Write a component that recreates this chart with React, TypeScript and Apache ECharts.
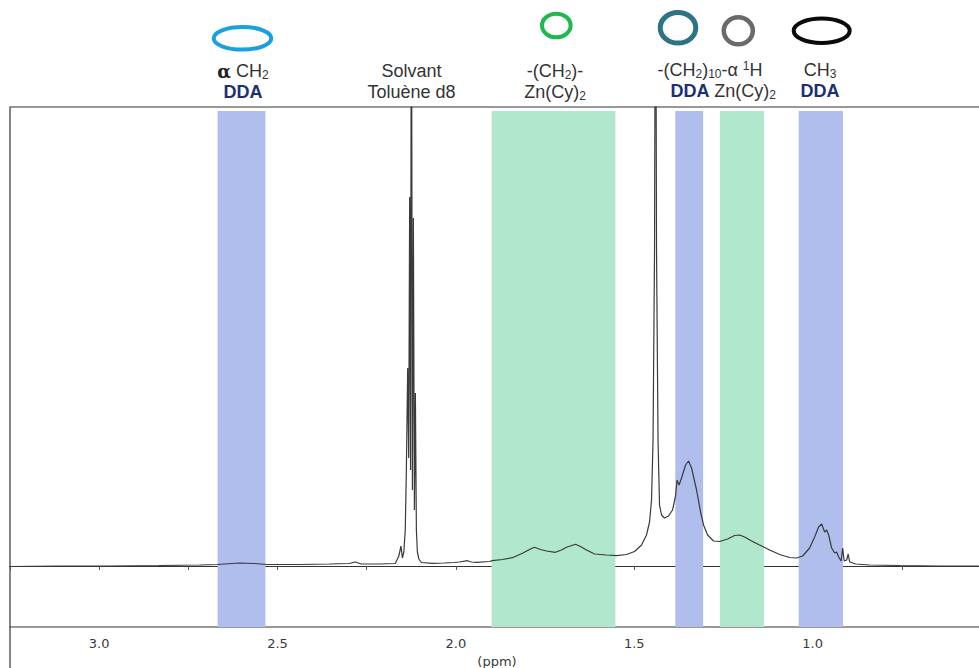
import React, { useEffect, useRef } from "react";
import * as echarts from "echarts";

// Chemical shift (ppm) of each point of the 1H NMR trace, read left to right
const ppm = [
  3.252, 3.112, 2.972, 2.832, 2.719, 2.669, 2.607, 2.565, 2.529, 2.439, 2.355, 2.299, 2.282, 2.265,
  2.215, 2.17, 2.16, 2.154, 2.15, 2.146, 2.142, 2.1389, 2.1352, 2.1324, 2.1296, 2.1271, 2.1248, 2.122,
  2.1192, 2.1164, 2.1136, 2.1108, 2.108, 2.1038, 2.0968, 2.0659, 2.0323, 2.0042, 1.9902, 1.9677, 1.9565,
  1.9425, 1.906, 1.8976, 1.8696, 1.8415, 1.8135, 1.7938, 1.7798, 1.763, 1.7461, 1.7209, 1.7041, 1.69,
  1.6648, 1.6508, 1.6339, 1.6115, 1.5778, 1.5498, 1.5217, 1.4993, 1.4797, 1.4657, 1.4572, 1.4516,
  1.4474, 1.4432, 1.4404, 1.4376, 1.4334, 1.4292, 1.4236, 1.4152, 1.4039, 1.3927, 1.3843, 1.3801,
  1.3745, 1.3675, 1.3562, 1.3478, 1.3394, 1.3254, 1.3142, 1.3058, 1.2945, 1.2777, 1.2609, 1.2384,
  1.2188, 1.2048, 1.1907, 1.1711, 1.1487, 1.1206, 1.0926, 1.0645, 1.0449, 1.0281, 1.0084, 0.9944,
  0.9832, 0.9748, 0.9663, 0.9607, 0.9551, 0.9467, 0.9383, 0.9327, 0.9271, 0.9201, 0.9158, 0.9116,
  0.9046, 0.9004, 0.8962, 0.8794, 0.8401, 0.756, 0.6438, 0.5344,
];

// Signal intensity (arbitrary units, baseline = 0) at each ppm above
const intensity = [
  -0.5, 0, 0, 0.5, 1, 1.5, 3, 2.5, 1.5, 1.5, 2, 2.5, 4, 2,
  2, 2.5, 10, 20, 8, 14, 36, 96, 198, 108, 369, 96, 700, 76,
  348, 56, 173, 36, 14, 7, 3.5, 2.7, 3, 3.5, 4, 5.3, 4,
  3.7, 4.5, 5.3, 6.5, 8.3, 12.7, 16.5, 18.7, 16.5, 15, 13.7, 16, 18.7,
  21.7, 19.5, 16, 12, 11, 10.3, 11.5, 14.5, 21, 31, 44, 66,
  126, 316, 700, 316, 126, 61, 51, 48, 50, 56, 70, 86,
  81, 88, 101, 105, 98, 76, 54, 41, 31, 25, 24.5, 27,
  30.5, 31, 29, 25, 21, 16, 11.5, 8.5, 8, 10, 18, 29,
  39, 42, 34, 36, 31, 18, 13, 14, 9, 5, 18, 5,
  6, 12, 4, 2, 1, 0.5, 0, 0,
];

// Highlighted regions (ppm)
const bandFrom = [2.668, 1.9, 1.385, 1.26, 1.039];
const bandTo = [2.534, 1.553, 1.307, 1.136, 0.915];
const bandGroup = ["DDA", "Zn", "DDA", "Zn", "DDA"];

// Axis
const tickLabels = ["3.0", "2.5", "2.0", "1.5", "1.0"];
const axisTitle = "(ppm)";

const SANS = "'Liberation Sans', Arial, sans-serif";
const GREY = "#333333";
const NAVY = "#1c2f73";

export default function App() {
  const ref = useRef<HTMLDivElement>(null);

  useEffect(() => {
    if (!ref.current) return;
    const chart = echarts.init(ref.current, undefined, { renderer: "svg" });

    const bandColor: Record<string, string> = {
      DDA: "rgba(176,190,238,1)",
      Zn: "rgba(177,231,204,1)",
    };

    const yMin = -61;
    const yMax = 459;
    const bandTop = 455;

    const main = { fontSize: 18, lineHeight: 20, fontFamily: SANS, fill: GREY };
    const sub = { fontSize: 12, lineHeight: 12, verticalAlign: "bottom", fontFamily: SANS, fill: GREY };
    const sup = { fontSize: 12, lineHeight: 12, verticalAlign: "top", fontFamily: SANS, fill: GREY };

    const richText = (text: string, x: number, y: number, extraRich: any = {}) => ({
      type: "text",
      x,
      y,
      style: {
        text,
        align: "center",
        verticalAlign: "middle",
        fontSize: 18,
        lineHeight: 20,
        fontFamily: SANS,
        fill: GREY,
        rich: { m: main, s: sub, p: sup, ...extraRich },
      },
    });

    const boldText = (text: string, x: number, y: number) => ({
      type: "text",
      x,
      y,
      style: {
        text,
        align: "center",
        verticalAlign: "middle",
        fontSize: 18,
        lineHeight: 19,
        fontWeight: "bold",
        fontFamily: SANS,
        fill: NAVY,
      },
    });

    const ring = (cx: number, cy: number, rx: number, ry: number, stroke: string, lw: number) => ({
      type: "ellipse",
      shape: { cx, cy, rx, ry },
      style: { fill: "none", stroke, lineWidth: lw },
    });

    chart.setOption({
      animation: false,
      backgroundColor: "#ffffff",
      grid: {
        left: 10,
        top: 107,
        width: 981,
        height: 520,
        containLabel: false,
        outerBoundsMode: "none",
        show: true,
        borderColor: "#333333",
        borderWidth: 1.2,
        backgroundColor: "transparent",
      },
      xAxis: {
        type: "value",
        min: 0.5,
        max: 3.25,
        interval: 0.25,
        inverse: true,
        axisLine: { show: true, lineStyle: { color: "#333333", width: 1.2 } },
        axisTick: { show: true, length: 4, lineStyle: { color: "#555555" } },
        splitLine: { show: false },
        axisLabel: {
          margin: 10,
          fontFamily: "'DejaVu Sans', Verdana, sans-serif",
          fontSize: 13,
          color: "#3a3a3a",
          formatter: (v: number) => {
            const s = v.toFixed(1);
            return Math.abs(v * 2 - Math.round(v * 2)) < 1e-6 && tickLabels.includes(s) ? s : "";
          },
        },
      },
      yAxis: { type: "value", min: yMin, max: yMax, show: false },
      series: [
        {
          type: "line",
          data: ppm.map((p, i) => [p, intensity[i]]),
          showSymbol: false,
          symbol: "none",
          silent: true,
          clip: true,
          lineStyle: { color: "#3a3a3a", width: 1.2 },
          markArea: {
            silent: true,
            data: bandFrom.map((f, i) => [
              { xAxis: f, yAxis: yMin, itemStyle: { color: bandColor[bandGroup[i]] } },
              { xAxis: bandTo[i], yAxis: bandTop },
            ]),
          },
        },
      ],
      graphic: [
        { type: "line", shape: { x1: 10, y1: 627, x2: 10, y2: 668 }, style: { stroke: "#333333", lineWidth: 1.2 } },
        {
          type: "text",
          x: 497,
          y: 661,
          style: {
            text: axisTitle,
            align: "center",
            verticalAlign: "middle",
            fontSize: 13,
            fontFamily: "'DejaVu Sans', Verdana, sans-serif",
            fill: "#3a3a3a",
          },
        },
        ring(242.5, 38.3, 28.8, 11.3, "#1aa0dc", 4),
        ring(556.3, 25.5, 14.3, 11.8, "#1fb84f", 4),
        ring(678, 27.8, 17.8, 15.3, "#2d7285", 5),
        ring(738.3, 30.8, 14.5, 13.5, "#6a6a6a", 4.5),
        ring(821.7, 30.8, 28, 12.2, "#0a0a0a", 4),
        richText("{b|α} {m|CH}{s|2}", 243, 71, {
          b: { fontSize: 18, lineHeight: 20, fontWeight: "bold", fontFamily: "'DejaVu Serif', serif", fill: "#222222" },
        }),
        boldText("DDA", 243, 92),
        richText("{m|Solvant}", 411.5, 71),
        richText("{m|Toluène d8}", 411.5, 92),
        richText("{m|-(CH}{s|2}{m|)-}", 555, 71),
        richText("{m|Zn(Cy)}{s|2}", 555, 92),
        richText("{m|-(CH}{s|2}{m|)}{s|10}{m|-α }{p|1}{m|H}", 710, 70),
        boldText("DDA", 690, 91),
        richText("{m|Zn(Cy)}{s|2}", 745, 91),
        richText("{m|CH}{s|3}", 820, 70),
        boldText("DDA", 820, 91),
      ],
    });

    return () => chart.dispose();
  }, []);

  return (
    <div
      ref={ref}
      style={{ position: "fixed", left: 0, top: 0, width: 979, height: 668, background: "#ffffff" }}
    />
  );
}
